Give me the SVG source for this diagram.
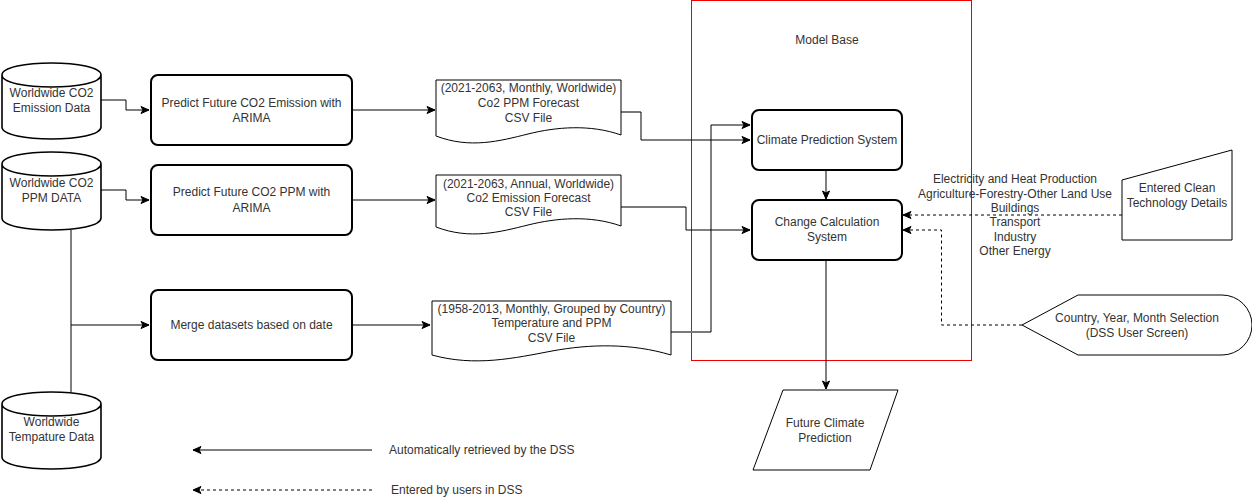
<svg xmlns="http://www.w3.org/2000/svg" width="1252" height="501" viewBox="0 0 1252 501">
<defs>
<marker id="arr" markerWidth="10" markerHeight="10" refX="9" refY="5" orient="auto" markerUnits="userSpaceOnUse">
<path d="M1,1.5 L9,5 L1,8.5 L3,5 Z" fill="#000" stroke="#000" stroke-width="1"/>
</marker>
<style>
text{font-family:"Liberation Sans",Arial,sans-serif;font-size:12px;fill:#333;text-anchor:middle;dominant-baseline:central}
.box{fill:#fff;stroke:#000;stroke-width:2}
.shape{fill:#fff;stroke:#000;stroke-width:1}
.cyl{fill:#fff;stroke:#000;stroke-width:1.6}
.c{fill:none;stroke:#000;stroke-width:1}
.g{fill:none;stroke:#7a7a7a;stroke-width:2}
.d{fill:none;stroke:#000;stroke-width:1;stroke-dasharray:3 3}
</style>
</defs>
<rect width="1252" height="501" fill="#fff"/>

<g id="model-base">
<rect x="691.5" y="0.5" width="280" height="360" fill="none" stroke="#e00" stroke-width="1"/>
<text x="827" y="40">Model Base</text>
</g>

<g id="connectors">
<polyline class="c" points="101,100 126,100 126,110 149,110" marker-end="url(#arr)"/>
<polyline class="c" points="101,190 126,190 126,200 149,200" marker-end="url(#arr)"/>
<polyline class="c" points="71,230 71,392"/>
<polyline class="c" points="71,325 149,325" marker-end="url(#arr)"/>
<polyline class="c" points="352,110 435,110" marker-end="url(#arr)"/>
<polyline class="c" points="352,200 435,200" marker-end="url(#arr)"/>
<polyline class="c" points="352,325 430,325" marker-end="url(#arr)"/>
<polyline class="g" points="621,112 641,112"/>
<polyline class="c" points="641,112 641,140 750,140" marker-end="url(#arr)"/>
<polyline class="g" points="621,207 686,207"/>
<polyline class="c" points="686,207 686,230 750,230" marker-end="url(#arr)"/>
<polyline class="g" points="671,332 711,332"/>
<polyline class="c" points="711,332 711,125 750,125" marker-end="url(#arr)"/>
<polyline class="c" points="826,170 826,199" marker-end="url(#arr)"/>
<polyline class="c" points="826,260 826,389" marker-end="url(#arr)"/>
<polyline class="d" points="1122,215 903,215" marker-end="url(#arr)"/>
<polyline class="d" points="1022,325 941.5,325 941.5,230 903,230" marker-end="url(#arr)"/>
<polyline class="c" points="372,450 193,450" marker-end="url(#arr)"/>
<polyline class="d" points="372,490 193,490" marker-end="url(#arr)"/>
</g>

<g id="cyl-emission">
<path class="cyl" d="M2,75 C2,59 101,59 101,75 L101,127 C101,143 2,143 2,127 Z M2,75 C2,91 101,91 101,75"/>
<text x="51.5" y="93">Worldwide CO2</text>
<text x="51.5" y="108">Emission Data</text>
</g>

<g id="cyl-ppm">
<path class="cyl" d="M2,164 C2,148 101,148 101,164 L101,218 C101,234 2,234 2,218 Z M2,164 C2,180 101,180 101,164"/>
<text x="51.5" y="183">Worldwide CO2</text>
<text x="51.5" y="198">PPM DATA</text>
</g>

<g id="cyl-temp">
<path class="cyl" d="M2,404 C2,388 101,388 101,404 L101,457 C101,473 2,473 2,457 Z M2,404 C2,420 101,420 101,404"/>
<text x="51.5" y="422">Worldwide</text>
<text x="51.5" y="437">Tempature Data</text>
</g>

<g id="proc-emission">
<rect class="box" x="151" y="75" width="201" height="70" rx="7"/>
<text x="251.5" y="103">Predict Future CO2 Emission with</text>
<text x="251.5" y="118">ARIMA</text>
</g>

<g id="proc-ppm">
<rect class="box" x="151" y="165" width="201" height="70" rx="7"/>
<text x="251.5" y="192">Predict Future CO2 PPM with</text>
<text x="251.5" y="208">ARIMA</text>
</g>

<g id="proc-merge">
<rect class="box" x="151" y="290" width="201" height="70" rx="7"/>
<text x="251.5" y="325">Merge datasets based on date</text>
</g>

<g id="doc-ppm">
<path class="shape" d="M436,80 H621 V135 C590,124 556,127 528,134 C500,141 470,149 436,136 Z"/>
<text x="528.5" y="88">(2021-2063, Monthly, Worldwide)</text>
<text x="528.5" y="103">Co2 PPM Forecast</text>
<text x="528.5" y="118">CSV File</text>
</g>

<g id="doc-emission">
<path class="shape" d="M436,175 H621 V226 C590,215 556,218 528,225 C500,232 470,240 436,227 Z"/>
<text x="528.5" y="184">(2021-2063, Annual, Worldwide)</text>
<text x="528.5" y="198">Co2 Emission Forecast</text>
<text x="528.5" y="212">CSV File</text>
</g>

<g id="doc-temp">
<path class="shape" d="M432,301 H671 V355 C631,343 590,344 552,351 C515,358 475,367 432,355 Z"/>
<text x="551.5" y="309">(1958-2013, Monthly, Grouped by Country)</text>
<text x="551.5" y="323">Temperature and PPM</text>
<text x="551.5" y="338">CSV File</text>
</g>

<g id="climate-prediction">
<rect class="box" x="752" y="110" width="150" height="60" rx="7"/>
<text x="827" y="140">Climate Prediction System</text>
</g>

<g id="change-calculation">
<rect class="box" x="752" y="200" width="150" height="60" rx="7"/>
<text x="827" y="222">Change Calculation</text>
<text x="827" y="237">System</text>
</g>

<g id="future-climate">
<path class="shape" d="M783,390 H898 L870,470 H753 Z"/>
<text x="825" y="423">Future Climate</text>
<text x="825" y="438">Prediction</text>
</g>

<g id="clean-tech">
<path class="shape" d="M1122,180 L1232,150 V240 H1122 Z"/>
<text x="1177" y="188">Entered Clean</text>
<text x="1177" y="203">Technology Details</text>
</g>

<g id="sector-labels">
<text x="1015" y="179">Electricity and Heat Production</text>
<text x="1015" y="194">Agriculture-Forestry-Other Land Use</text>
<text x="1015" y="208">Buildings</text>
<text x="1015" y="222">Transport</text>
<text x="1015" y="237">Industry</text>
<text x="1015" y="251">Other Energy</text>
</g>

<g id="user-screen">
<path class="shape" d="M1022,325 L1078,295 H1222 A30,30 0 0 1 1222,355 H1078 Z"/>
<text x="1137" y="318">Country, Year, Month Selection</text>
<text x="1137" y="333">(DSS User Screen)</text>
</g>

<g id="legend">
<text x="389" y="450" style="text-anchor:start">Automatically retrieved by the DSS</text>
<text x="391" y="490" style="text-anchor:start">Entered by users in DSS</text>
</g>
</svg>
